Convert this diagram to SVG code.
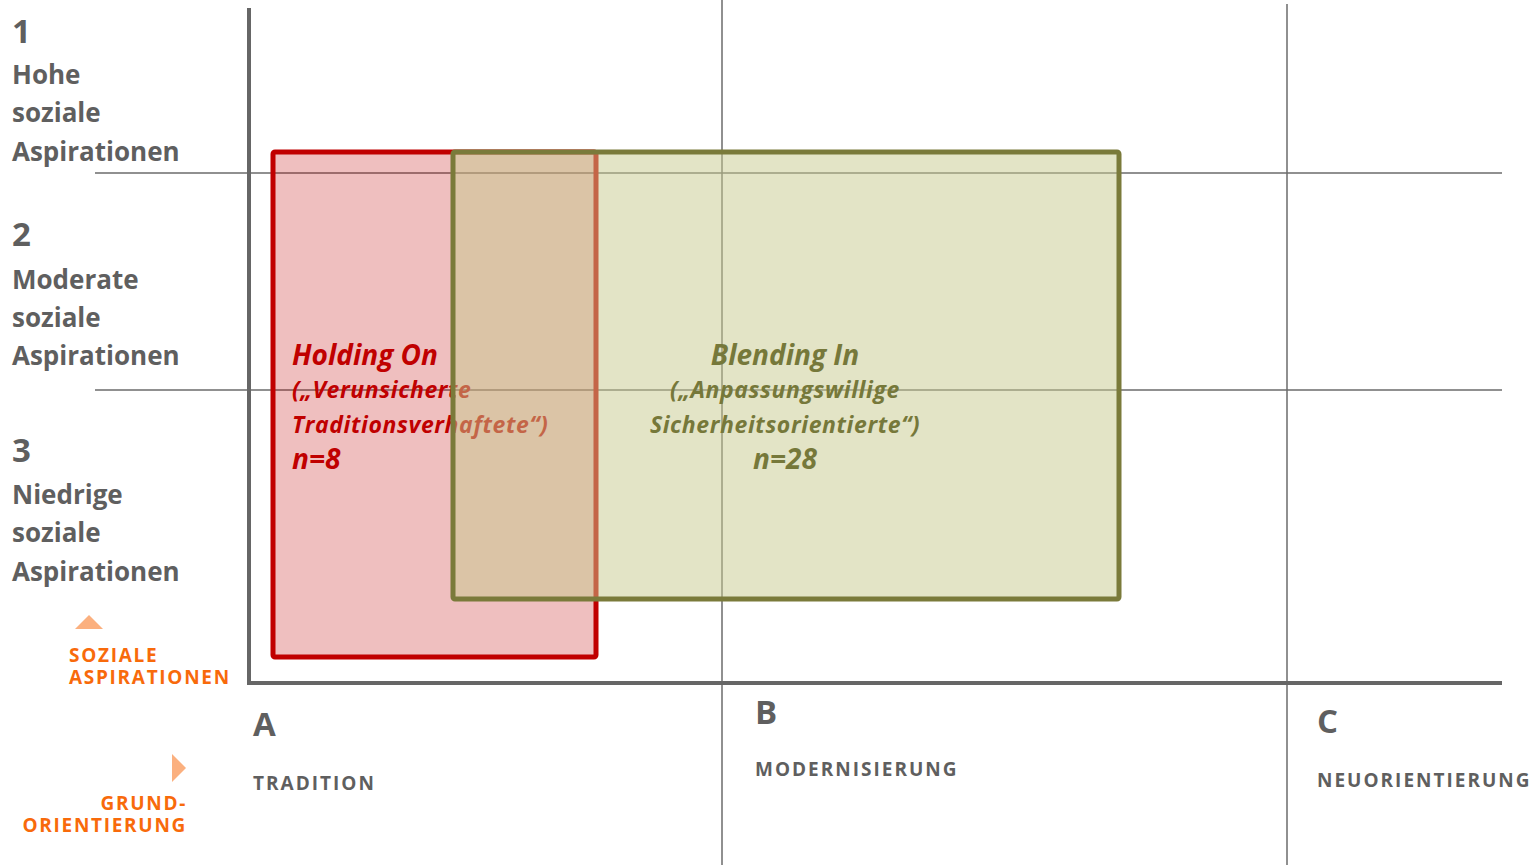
<svg xmlns="http://www.w3.org/2000/svg" width="1537" height="865" viewBox="0 0 1537 865">
<style>
.grid{stroke:#6b6b6b;stroke-width:1.5;fill:none}
.axis{stroke:#666;stroke-width:4;fill:none}
.lbl{font-family:"Open Sans","Liberation Sans",sans-serif;font-weight:700;fill:#5f5f5f}
.num{font-size:33px}
.lt{font-size:26px}
.cat{font-size:19px;letter-spacing:2px}
.or{font-family:"Open Sans","Liberation Sans",sans-serif;font-weight:700;fill:#F86A0B;font-size:19px;letter-spacing:1.7px}
.tri{fill:#FBB07F}
.nt{font-family:"Open Sans","Liberation Sans",sans-serif;font-weight:700;font-style:italic}
.big{font-size:28px}
.sm{font-size:23px;letter-spacing:0.6px}
.red{fill:#C00000}
.grn{fill:#76783A}
</style>
<rect width="1537" height="865" fill="#fff"/>
<g id="grid">
<line class="grid" x1="722" y1="0" x2="722" y2="865"/>
<line class="grid" x1="1287" y1="4" x2="1287" y2="865"/>
<line class="grid" x1="95" y1="173" x2="1502" y2="173"/>
<line class="grid" x1="95" y1="390" x2="1502" y2="390"/>
</g>
<g id="axes">
<line class="axis" x1="249" y1="8" x2="249" y2="685"/>
<line class="axis" x1="247" y1="683" x2="1502" y2="683"/>
</g>
<g id="row-labels">
<text class="lbl num" x="12" y="43">1</text>
<text class="lbl lt" x="12" y="84">Hohe</text>
<text class="lbl lt" x="12" y="122">soziale</text>
<text class="lbl lt" x="12" y="161">Aspirationen</text>
<text class="lbl num" x="12" y="246">2</text>
<text class="lbl lt" x="12" y="289">Moderate</text>
<text class="lbl lt" x="12" y="327">soziale</text>
<text class="lbl lt" x="12" y="365">Aspirationen</text>
<text class="lbl num" x="12" y="462">3</text>
<text class="lbl lt" x="12" y="504">Niedrige</text>
<text class="lbl lt" x="12" y="542">soziale</text>
<text class="lbl lt" x="12" y="581">Aspirationen</text>
</g>
<g id="col-labels">
<text class="lbl num" x="253" y="736">A</text>
<text class="lbl cat" x="253" y="790">TRADITION</text>
<text class="lbl num" x="755" y="724">B</text>
<text class="lbl cat" x="755" y="776">MODERNISIERUNG</text>
<text class="lbl num" x="1317" y="733">C</text>
<text class="lbl cat" x="1317" y="787">NEUORIENTIERUNG</text>
</g>
<g id="axis-legend">
<polygon class="tri" points="75,629 89,615 103,629"/>
<text class="or" x="69" y="662">SOZIALE</text>
<text class="or" x="69" y="684">ASPIRATIONEN</text>
<polygon class="tri" points="172,754 186,768 172,782"/>
<text class="or" x="187" y="810" text-anchor="end">GRUND-</text>
<text class="or" x="187" y="832" text-anchor="end">ORIENTIERUNG</text>
</g>
<g id="holding-on">
<rect x="273" y="152" width="323" height="505" rx="2" fill="#C00000" fill-opacity="0.25" stroke="#C00000" stroke-width="5"/>
<text class="nt big red" x="292" y="365">Holding On</text>
<text class="nt sm red" x="292" y="398">(„Verunsicherte</text>
<text class="nt sm red" x="292" y="433">Traditionsverhaftete“)</text>
<text class="nt big red" x="292" y="469">n=8</text>
</g>
<g id="blending-in">
<rect x="453" y="152" width="666" height="447" rx="2" fill="rgb(200,202,141)" fill-opacity="0.5" stroke="#7A7A3A" stroke-width="5"/>
<text class="nt big grn" x="785" y="365" text-anchor="middle">Blending In</text>
<text class="nt sm grn" x="785" y="398" text-anchor="middle">(„Anpassungswillige</text>
<text class="nt sm grn" x="785" y="433" text-anchor="middle">Sicherheitsorientierte“)</text>
<text class="nt big grn" x="785" y="469" text-anchor="middle">n=28</text>
</g>
</svg>
